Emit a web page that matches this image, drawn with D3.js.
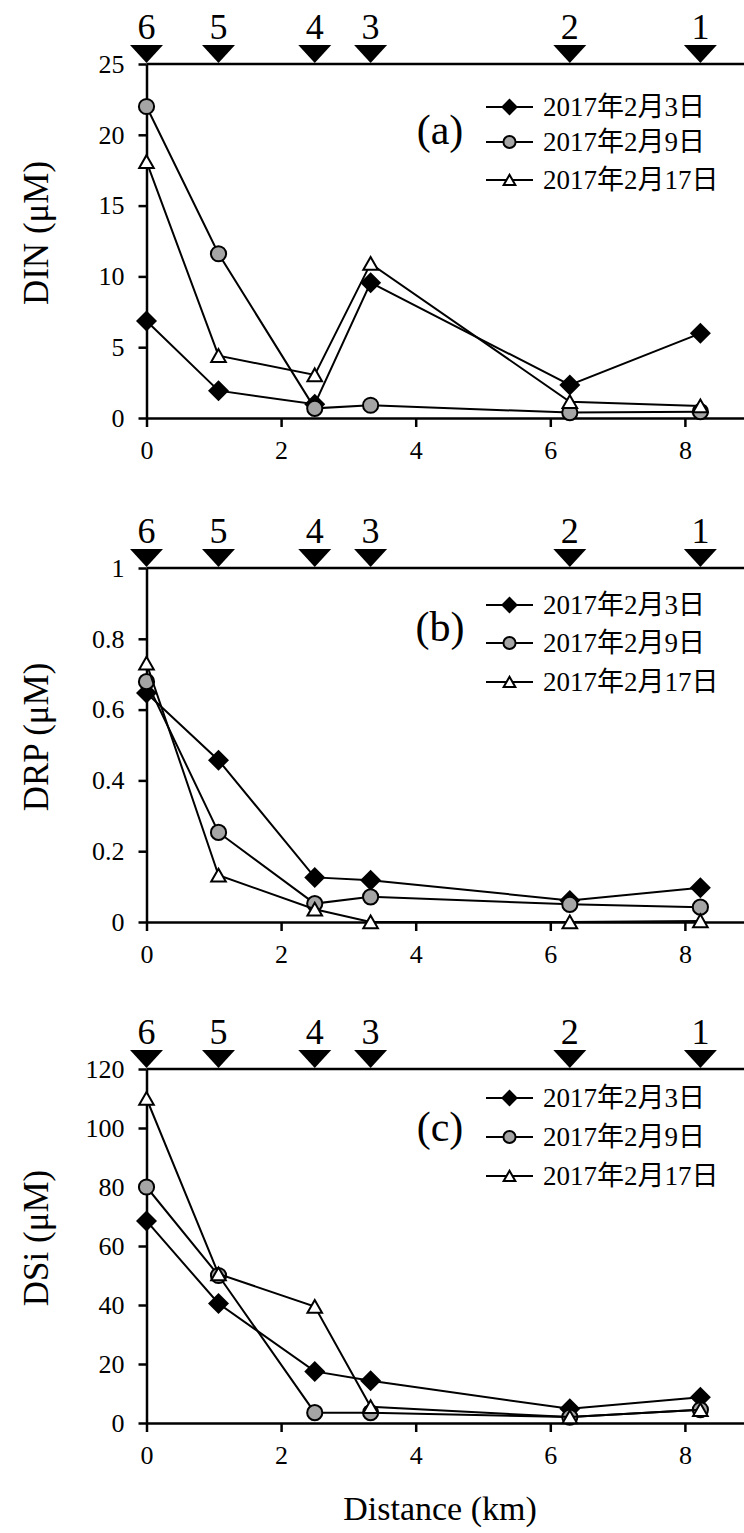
<!DOCTYPE html>
<html>
<head>
<meta charset="utf-8">
<script src="https://cdn.jsdelivr.net/npm/d3@7"></script>
<style>
  body { margin: 0; background: #fff; }
  text { fill: #000; }
</style>
</head>
<body>
<div id="chart"></div>
<script>
// station distances along the transect (km) and station ids
const distance = [0, 1.07, 2.5, 3.33, 6.29, 8.23];
const stationIds = ["6", "5", "4", "3", "2", "1"];
const seriesNames = ["2017年2月3日", "2017年2月9日", "2017年2月17日"];

// DIN (uM)
const dinFeb3 = [6.85, 1.93, 0.97, 9.56, 2.33, 5.98];
const dinFeb9 = [22.0, 11.6, 0.68, 0.9, 0.38, 0.45];
const dinFeb17 = [18.1, 4.4, 3.04, 10.9, 1.15, 0.85];

// DRP (uM)
const drpFeb3 = [0.647, 0.457, 0.126, 0.118, 0.061, 0.097];
const drpFeb9 = [0.679, 0.253, 0.052, 0.071, 0.05, 0.042];
const drpFeb17 = [0.731, 0.132, 0.036, 0, 0, 0.003];

// DSi (uM)
const dsiFeb3 = [68.5, 40.5, 17.5, 14.3, 4.8, 8.7];
const dsiFeb9 = [80, 50, 3.5, 3.5, 2.0, 4.5];
const dsiFeb17 = [110, 50.5, 39.5, 5.5, 2.0, 4.5];

const dinTicks = [0, 5, 10, 15, 20, 25];
const drpTicks = [0, 0.2, 0.4, 0.6, 0.8, 1];
const dsiTicks = [0, 20, 40, 60, 80, 100, 120];
const xTicks = [0, 2, 4, 6, 8];

const W = 744, H = 1533;
const left = 146.5, pxPerKm = 67.3;
const panelH = 354;
const SERIF = "'Liberation Serif', 'Times New Roman', serif";
const MIXED = "'Liberation Serif', 'Noto Sans CJK SC', serif";

const svg = d3.select("#chart").append("svg")
    .attr("width", W)
    .attr("height", H);

const x = d3.scaleLinear().domain([0, 9]).range([left, left + 9 * pxPerKm]);

// marker shapes
const diamond = s => `M0,${-s}L${s},0L0,${s}L${-s},0Z`;
const triUp = s => `M0,${-s * 0.9}L${s},${s * 0.85}L${-s},${s * 0.85}Z`;

function drawMarker(g, kind, cx, cy, scale) {
    if (kind === 0) {
        g.append("path").attr("d", diamond(10.5 * scale))
            .attr("transform", `translate(${cx},${cy})`)
            .attr("fill", "#000");
    } else if (kind === 1) {
        g.append("circle").attr("cx", cx).attr("cy", cy).attr("r", 7.6 * scale)
            .attr("fill", "#a5a5a5").attr("stroke", "#000").attr("stroke-width", 2);
    } else {
        g.append("path").attr("d", triUp(7.3 * scale))
            .attr("transform", `translate(${cx},${cy})`)
            .attr("fill", "#fff").attr("stroke", "#000").attr("stroke-width", 2)
            .attr("stroke-linejoin", "miter");
    }
}

function drawPanel(p) {
    const top = p.top, bottom = p.top + panelH;
    const g = svg.append("g");
    const y = d3.scaleLinear().domain(p.domain).range([bottom, top]);

    // y axis
    g.append("g")
        .attr("transform", `translate(${left},0)`)
        .call(d3.axisLeft(y).tickValues(p.ticks).tickSize(8).tickPadding(14).tickSizeOuter(0)
            .tickFormat(d => d3.format("~g")(d)))
        .call(a => a.selectAll("line, path").attr("stroke", "#000").attr("stroke-width", 2.5))
        .call(a => a.selectAll("text").attr("fill", "#000")
            .style("font-size", "26px").style("font-family", SERIF));

    // x axis
    g.append("g")
        .attr("transform", `translate(0,${bottom})`)
        .call(d3.axisBottom(x).tickValues(xTicks).tickSize(9).tickPadding(14).tickSizeOuter(0))
        .call(a => a.selectAll("line, path").attr("stroke", "#000").attr("stroke-width", 2.5))
        .call(a => a.selectAll("text").attr("fill", "#000")
            .style("font-size", "26px").style("font-family", SERIF));

    // top frame line
    g.append("line")
        .attr("x1", left).attr("x2", x(9))
        .attr("y1", top).attr("y2", top)
        .attr("stroke", "#000").attr("stroke-width", 2.5);

    // station markers
    distance.forEach((d, i) => {
        const cx = x(d);
        g.append("path")
            .attr("d", `M${cx - 16.5},${top - 19}L${cx + 16.5},${top - 19}L${cx},${top - 1}Z`)
            .attr("fill", "#000");
        g.append("text")
            .attr("x", cx).attr("y", top - 25)
            .attr("text-anchor", "middle")
            .style("font-size", "36px").style("font-family", SERIF)
            .text(stationIds[i]);
    });

    // y title
    g.append("text")
        .attr("transform", `translate(48,${(top + bottom) / 2 - 8}) rotate(-90)`)
        .attr("text-anchor", "middle")
        .style("font-size", "35px").style("font-family", SERIF)
        .text(p.title);

    // series
    const line = d3.line().x((d, i) => x(distance[i])).y(d => y(d));
    p.series.forEach((vals, k) => {
        const sg = g.append("g");
        sg.append("path")
            .attr("d", line(vals))
            .attr("fill", "none")
            .attr("stroke", "#000")
            .attr("stroke-width", 2);
        vals.forEach((v, i) => drawMarker(sg, k, x(distance[i]), y(v), 1));
    });

    // panel label + legend
    g.append("text")
        .attr("x", 440).attr("y", top + p.labelDy)
        .attr("text-anchor", "middle")
        .style("font-size", "42px").style("font-family", SERIF)
        .text(p.label);

    seriesNames.forEach((name, k) => {
        const ly = top + p.legendDy[k];
        g.append("line")
            .attr("x1", 486).attr("x2", 533)
            .attr("y1", ly).attr("y2", ly)
            .attr("stroke", "#000").attr("stroke-width", 2);
        drawMarker(g, k, 509.5, ly, 0.8);
        g.append("text")
            .attr("x", 543).attr("y", ly + 9)
            .style("font-size", "27px").style("font-family", MIXED)
            .text(name);
    });
}

const panels = [
    { top: 64, domain: [0, 25], ticks: dinTicks, title: "DIN (μM)", label: "(a)",
      labelDy: 80, legendDy: [43, 78, 116], series: [dinFeb3, dinFeb9, dinFeb17] },
    { top: 568, domain: [0, 1], ticks: drpTicks, title: "DRP (μM)", label: "(b)",
      labelDy: 73, legendDy: [37, 75, 114], series: [drpFeb3, drpFeb9, drpFeb17] },
    { top: 1069, domain: [0, 120], ticks: dsiTicks, title: "DSi (μM)", label: "(c)",
      labelDy: 72, legendDy: [29, 68, 107], series: [dsiFeb3, dsiFeb9, dsiFeb17] }
];

panels.forEach(drawPanel);

// bottom x title
svg.append("text")
    .attr("x", 440).attr("y", 1520)
    .attr("text-anchor", "middle")
    .style("font-size", "34px").style("font-family", SERIF)
    .text("Distance (km)");
</script>
</body>
</html>
